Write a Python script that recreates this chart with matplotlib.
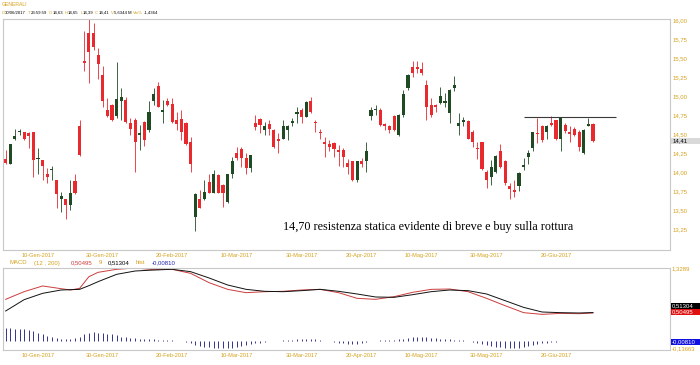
import matplotlib.pyplot as plt
import numpy as np

# --- dati (GENERALI, giornaliero) ---
opens = [14.17, 14.11, 14.44, 14.52, 14.52, 14.51, 14.52, 14.17, 14.16, 13.97,
         14.02, 13.89, 13.65, 13.64, 13.57, 13.88, 14.61, 15.46, 15.83, 15.83,
         15.54, 15.28, 14.82, 14.88, 14.74, 14.93, 14.95, 14.65, 14.68, 14.49,
         14.66, 14.55, 14.93, 15.13, 14.79, 14.93, 14.90, 14.68, 14.70, 14.64,
         14.39, 13.41, 13.65, 13.64, 13.87, 13.73, 13.96, 13.83, 13.60, 13.98,
         14.25, 14.30, 14.18, 14.05, 14.64, 14.70, 14.55, 14.63, 14.55, 14.43,
         14.44, 14.55, 14.64, 14.76, 14.81, 14.73, 14.93, 14.66, 14.53, 14.40,
         14.37, 14.38, 14.29, 14.29, 14.12, 14.14, 13.89, 14.14, 14.14, 14.74,
         14.81, 14.82, 14.63, 14.60, 14.74, 14.49, 14.75, 15.10, 15.38, 15.38,
         15.36, 15.14, 14.88, 14.88, 14.91, 14.91, 14.77, 15.10, 14.61, 14.66,
         14.67, 14.53, 14.31, 14.39, 14.00, 13.94, 14.00, 14.27, 14.14, 13.82,
         13.76, 13.81, 14.07, 14.20, 14.31, 14.51, 14.60, 14.53, 14.65, 14.68,
         14.44, 14.62, 14.52, 14.56, 14.53, 14.25, 14.61, 14.63]
highs = [14.29, 14.37, 14.56, 14.57, 14.53, 14.52, 14.53, 14.31, 14.16, 14.05,
         14.08, 13.90, 13.74, 13.65, 13.89, 13.98, 14.69, 15.85, 16.02, 15.96,
         15.63, 15.39, 14.97, 14.90, 15.45, 15.10, 14.99, 14.71, 14.71, 14.62,
         14.67, 14.93, 15.10, 15.18, 14.95, 14.97, 14.97, 14.79, 14.82, 14.66,
         14.46, 13.72, 13.76, 13.90, 13.98, 14.03, 13.97, 13.84, 13.98, 14.20,
         14.33, 14.33, 14.25, 14.23, 14.75, 14.71, 14.66, 14.69, 14.57, 14.51,
         14.68, 14.62, 14.71, 14.85, 14.84, 14.93, 14.99, 14.68, 14.57, 14.46,
         14.42, 14.40, 14.36, 14.31, 14.17, 14.15, 14.15, 14.18, 14.40, 14.85,
         14.88, 14.84, 14.64, 14.62, 14.75, 14.76, 15.08, 15.29, 15.46, 15.46,
         15.45, 15.21, 14.97, 14.90, 15.12, 15.04, 15.09, 15.26, 14.77, 14.73,
         14.68, 14.55, 14.39, 14.40, 14.03, 14.16, 14.22, 14.37, 14.16, 13.86,
         13.90, 14.00, 14.18, 14.29, 14.53, 14.71, 14.62, 14.62, 14.74, 14.69,
         14.72, 14.64, 14.60, 14.59, 14.55, 14.56, 14.71, 14.65]
lows = [14.11, 14.11, 14.42, 14.49, 14.42, 14.31, 13.93, 13.98, 13.90, 13.85,
        13.89, 13.52, 13.48, 13.38, 13.50, 13.71, 14.21, 15.33, 15.17, 15.61,
        15.23, 14.85, 14.73, 14.67, 14.71, 14.68, 14.64, 14.49, 14.00, 14.29,
        14.34, 14.53, 14.88, 14.85, 14.64, 14.87, 14.64, 14.55, 14.42, 14.36,
        14.00, 13.23, 13.52, 13.63, 13.72, 13.72, 13.72, 13.54, 13.59, 13.92,
        14.16, 14.07, 13.97, 14.00, 14.55, 14.51, 14.49, 14.49, 14.31, 14.25,
        14.43, 14.42, 14.61, 14.65, 14.64, 14.72, 14.78, 14.53, 14.44, 14.20,
        14.27, 14.20, 14.08, 14.07, 13.98, 13.88, 13.87, 14.07, 14.00, 14.68,
        14.75, 14.60, 14.55, 14.51, 14.54, 14.47, 14.73, 15.08, 15.25, 15.30,
        15.28, 14.68, 14.73, 14.79, 14.90, 14.86, 14.64, 15.06, 14.49, 14.60,
        14.43, 14.33, 14.17, 14.03, 13.79, 13.83, 13.99, 14.05, 13.83, 13.65,
        13.67, 13.75, 14.03, 14.11, 14.27, 14.38, 14.40, 14.43, 14.60, 14.42,
        14.27, 14.51, 14.40, 14.47, 14.28, 14.24, 14.60, 14.39]
closes = [14.12, 14.37, 14.47, 14.54, 14.44, 14.47, 14.16, 14.18, 14.08, 13.93,
          14.04, 13.71, 13.68, 13.57, 13.73, 13.72, 14.22, 15.44, 15.58, 15.65,
          15.42, 14.93, 14.74, 14.68, 14.96, 14.99, 14.66, 14.56, 14.40, 14.51,
          14.42, 14.79, 15.03, 14.86, 14.81, 14.88, 14.66, 14.63, 14.52, 14.37,
          14.11, 13.71, 13.53, 13.74, 13.73, 13.97, 13.73, 13.73, 13.97, 14.14,
          14.19, 14.18, 14.05, 14.22, 14.59, 14.62, 14.60, 14.56, 14.33, 14.41,
          14.61, 14.60, 14.67, 14.79, 14.73, 14.92, 14.79, 14.64, 14.51, 14.37,
          14.33, 14.30, 14.26, 14.20, 14.07, 13.89, 14.14, 14.11, 14.27, 14.81,
          14.83, 14.62, 14.60, 14.55, 14.55, 14.75, 15.03, 15.28, 15.30, 15.35,
          15.30, 14.85, 14.75, 14.85, 15.00, 14.93, 15.08, 15.14, 14.64, 14.69,
          14.44, 14.40, 14.30, 14.04, 13.89, 14.07, 14.21, 14.07, 13.85, 13.77,
          13.74, 13.99, 14.09, 14.25, 14.52, 14.50, 14.42, 14.61, 14.62, 14.44,
          14.71, 14.54, 14.50, 14.49, 14.33, 14.55, 14.63, 14.41]

# MACD letto a intervalli sulle curve
macd_idx = [0, 4, 8, 12, 14, 16, 18, 20, 24, 28, 32, 36, 40, 44, 48, 52, 56, 60,
            64, 68, 72, 76, 80, 84, 88, 92, 96, 100, 104, 108, 112, 116, 120, 124, 127]
macd_vals = [0.755, 0.896, 1.000, 0.950, 0.926, 0.956, 1.170, 1.250, 1.305, 1.329,
             1.298, 1.305, 1.231, 1.060, 0.938, 0.877, 0.895, 0.902, 0.926, 0.938,
             0.877, 0.773, 0.755, 0.804, 0.883, 0.938, 0.944, 0.895, 0.773, 0.639,
             0.511, 0.480, 0.498, 0.492, 0.505]
signal_vals = [0.541, 0.749, 0.865, 0.926, 0.932, 0.938, 1.005, 1.079, 1.213, 1.274,
               1.292, 1.305, 1.262, 1.146, 1.018, 0.938, 0.902, 0.895, 0.914, 0.938,
               0.902, 0.853, 0.798, 0.792, 0.840, 0.895, 0.926, 0.914, 0.853, 0.731,
               0.608, 0.523, 0.511, 0.505, 0.513]
hist = [0.224, 0.224, 0.217, 0.211, 0.205, 0.193, 0.181, 0.144, 0.120, 0.089,
        0.071, 0.053, 0.034, 0.022, 0.022, 0.040, 0.071, 0.114, 0.144, 0.150,
        0.144, 0.132, 0.120, 0.114, 0.101, 0.071, 0.059, 0.046, 0.040, 0.034,
        0.028, 0.022, 0.022, 0.016, 0.016, 0.010, 0.004, -0.002, -0.009, -0.021,
        -0.051, -0.082, -0.100, -0.112, -0.125, -0.131, -0.135, -0.137, -0.135, -0.132,
        -0.125, -0.100, -0.082, -0.064, -0.051, -0.039, -0.027, -0.015, -0.009, -0.002,
        0.004, 0.010, 0.016, 0.022, 0.028, 0.028, 0.028, 0.022, 0.010, -0.002,
        -0.015, -0.027, -0.039, -0.051, -0.058, -0.064, -0.058, -0.039, -0.021, -0.009,
        -0.002, 0.004, 0.004, 0.010, 0.016, 0.022, 0.034, 0.053, 0.065, 0.071,
        0.071, 0.059, 0.046, 0.040, 0.034, 0.028, 0.022, 0.016, 0.010, 0.004,
        -0.009, -0.021, -0.039, -0.064, -0.082, -0.100, -0.112, -0.125, -0.131, -0.134,
        -0.137, -0.137, -0.125, -0.100, -0.082, -0.064, -0.051, -0.039, -0.027, -0.021,
        -0.015, -0.015, -0.009, -0.009, -0.009, -0.008, -0.008, -0.0081]

tick_idx = [7, 21, 36, 50, 64, 77, 90, 104, 119]
tick_labels = ['10-Gen-2017', '30-Gen-2017', '20-Feb-2017', '10-Mar-2017', '30-Mar-2017',
               '20-Apr-2017', '10-Mag-2017', '30-Mag-2017', '20-Giu-2017']
price_ticks = [13.25, 13.50, 13.75, 14.00, 14.25, 14.50, 14.75, 15.00, 15.25, 15.50, 15.75, 16.00]
resist_level = 14.72
resist_from, resist_to = 112, 132
last_price = 14.41

GOLD = '#d6a21e'
RED = '#e8292e'
DARK = '#1f4a24'
SPINE = '#c8c8c8'
W, H = 700, 365


def rect(x0, y0, x1, y1):
    return [x0 / W, 1 - y1 / H, (x1 - x0) / W, (y1 - y0) / H]


def ftxt(x, y, s, color, size, **kw):
    return fig.text(x / W, 1 - y / H, s, color=color, fontsize=size, va='center',
                    ha='left', family='Liberation Sans', **kw)


def num(v, d=2):
    return f'{v:.{d}f}'.replace('.', ',')


def row(x, y, pieces, size, gap):
    # scrive i pezzi uno dopo l'altro senza sovrapporli
    r = fig.canvas.get_renderer()
    for s, col, extra in pieces:
        t = ftxt(x, y, s, col, size)
        x = t.get_window_extent(r).x1 + gap + extra


fig = plt.figure(figsize=(7, 3.65), dpi=100)
ax = fig.add_axes(rect(3, 19, 670, 250))
ax2 = fig.add_axes(rect(3, 268, 670, 350))

o, h, l, c = map(np.array, (opens, highs, lows, closes))
idx = np.arange(len(c))
cols = [RED if cc < oo else DARK for oo, cc in zip(o, c)]

ax.vlines(idx, l, h, colors=cols, lw=0.6)
ax.bar(idx, np.maximum(np.abs(c - o), 0.012), bottom=np.minimum(o, c),
       width=0.68, color=cols, lw=0)
ax.hlines(resist_level, resist_from, resist_to, color='#3a3a3a', lw=0.8)

ax.text(60, 13.28, '14,70 resistenza statica evidente di breve e buy sulla rottura',
        family='Liberation Serif', fontsize=8.7, color='black', va='center', ha='left')

xlim = (-0.57, 143.66)
ax.set_xlim(*xlim)
ax.set_ylim(12.974, 16.013)
ax.yaxis.tick_right()
ax.set_yticks(price_ticks)
ax.set_yticklabels([num(v) for v in price_ticks])

# MACD
ax2.vlines(idx, 0, hist, color='#34348a', lw=0.7)
ax2.plot(macd_idx, macd_vals, color='#cc3c3c', lw=0.7)
ax2.plot(macd_idx, signal_vals, color='#111111', lw=0.7)
ax2.set_xlim(*xlim)
ax2.set_ylim(-0.173, 1.329)
ax2.set_yticks([])

for a in (ax, ax2):
    a.set_xticks(tick_idx)
    a.set_xticklabels(tick_labels)
    a.tick_params(axis='x', length=0, pad=2.2, labelsize=4.1, labelcolor=GOLD)
    a.tick_params(axis='y', length=0, pad=2, labelsize=4.3, labelcolor=GOLD)
    for s in a.spines.values():
        s.set_color(SPINE)
        s.set_linewidth(0.8)
    for t in a.get_xticklabels() + a.get_yticklabels():
        t.set_family('Liberation Sans')

# etichetta ultimo prezzo
ytr = ax.get_yaxis_transform()
ax.add_patch(plt.Rectangle((1.0015, last_price - 0.04), 0.05, 0.08, transform=ytr,
                           fc='#d9d9d9', ec='none', clip_on=False))
ax.text(1.004, last_price, num(last_price), transform=ytr, fontsize=4.3,
        va='center', ha='left', color='black', family='Liberation Sans')

# etichette lato destro MACD
ftxt(672, 268.5, '1,3289', GOLD, 4.3)
for yc, s, bg in [(305.6, '0,51304', 'black'), (311.6, '0,50495', '#e01010'),
                  (341.6, '-0,00810', '#1010e0')]:
    fig.add_artist(plt.Rectangle((671 / W, 1 - (yc + 3) / H), 29 / W, 6 / H,
                                 transform=fig.transFigure, fc=bg, ec='none'))
    ftxt(672, yc, s, 'white', 4.3)
ftxt(672, 349, '-0,13663', GOLD, 4.3)

# intestazione
ftxt(1.5, 5, 'GENERALI', GOLD, 3.7)
head = [('D', GOLD, 0), ('30/06/2017', 'black', 1.2), ('T', GOLD, 0),
        ('23:59:59', 'black', 1.2), ('O', GOLD, 0), ('14,63', 'black', 1.2),
        ('H', GOLD, 0), ('14,65', 'black', 1.2), ('L', GOLD, 0),
        ('14,39', 'black', 1.2), ('C', GOLD, 0), ('14,41', 'black', 1.2),
        ('V', GOLD, 0), ('5,6344 M', 'black', 1.2), ('Var%', GOLD, 0),
        ('-1,4364', 'black', 0)]
row(1.7, 12.7, head, 3.1, 0.4)

legend = [('MACD', GOLD, 4), ('(12 , 200)', GOLD, 9), ('0,50495', '#cc3c3c', 5),
          ('9', GOLD, 3), ('0,51304', 'black', 5), ('hist', GOLD, 4),
          ('-0,00810', '#2020b0', 0)]
row(10, 263, legend, 4.3, 2.0)

fig.savefig('out.png', dpi=100)
